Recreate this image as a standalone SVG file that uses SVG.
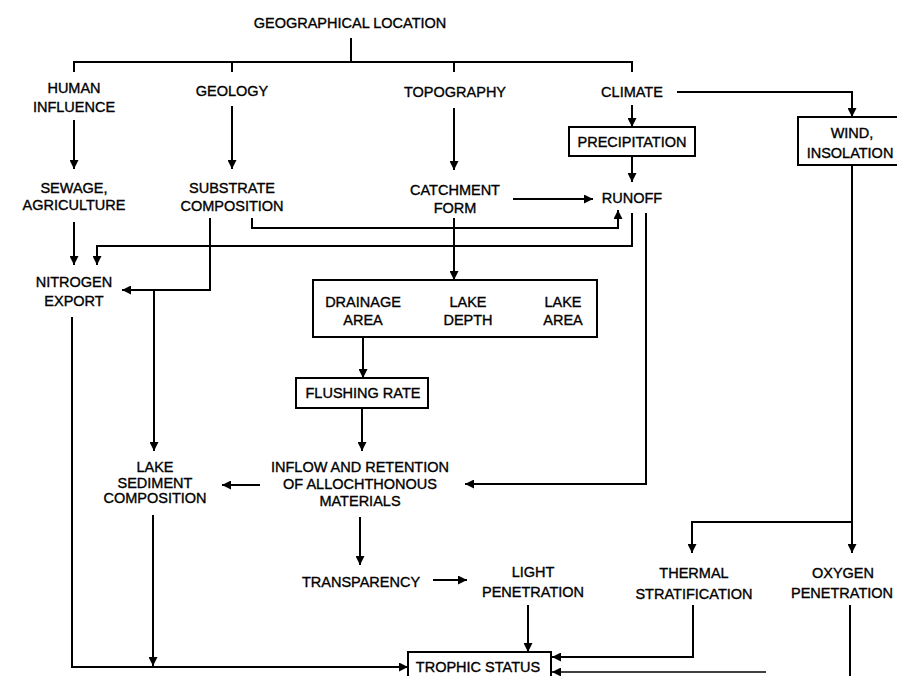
<svg xmlns="http://www.w3.org/2000/svg" width="897" height="676" viewBox="0 0 897 676">
<defs>
<marker id="ah" viewBox="0 0 10 10" refX="10" refY="5" markerWidth="9" markerHeight="9" markerUnits="userSpaceOnUse" orient="auto">
<path d="M0,0 L10,5 L0,10 z" fill="#000"/>
</marker>
</defs>
<style>
text{font-family:"Liberation Sans",Arial,Helvetica,sans-serif;font-size:14.5px;text-anchor:middle;fill:#000;stroke:#000;stroke-width:0.35px}
.c{fill:none;stroke:#000;stroke-width:2}
.a{marker-end:url(#ah)}
.box{fill:#fff;stroke:#000;stroke-width:2}
</style>
<rect width="897" height="676" fill="#fff"/>
<g id="connectors">
<path class="c" d="M351,38 V62"/>
<path class="c" d="M74,72 V62 H632 V72"/>
<path class="c" d="M232,62 V72"/>
<path class="c" d="M454,62 V72"/>
<path class="c a" d="M74,120 V169"/>
<path class="c a" d="M232,106 V169"/>
<path class="c a" d="M454,108 V170"/>
<path class="c a" d="M632,105 V127"/>
<path class="c a" d="M632,156 V182"/>
<path class="c a" d="M677,92 H852 V117"/>
<path class="c a" d="M513,199 H593"/>
<path class="c a" d="M252,218 V228 H618 V210"/>
<path class="c a" d="M632,213 V246 H97 V265"/>
<path class="c a" d="M74,222 V265"/>
<path class="c a" d="M210,218 V290 H122"/>
<path class="c a" d="M154,290 V451"/>
<path class="c a" d="M454,218 V280"/>
<path class="c a" d="M363,337 V378"/>
<path class="c a" d="M362,408 V451"/>
<path class="c a" d="M646,213 V484 H465"/>
<path class="c a" d="M260,485 H222"/>
<path class="c a" d="M360,517 V565"/>
<path class="c a" d="M433,580 H467"/>
<path class="c a" d="M852,165 V553"/>
<path class="c a" d="M852,522 H692 V553"/>
<path class="c a" d="M72,317 V667 H408"/>
<path class="c a" d="M153,515 V666"/>
<path class="c a" d="M528,605 V652"/>
<path class="c a" d="M693,605 V657 H552"/>
<path class="c" d="M850,605 V676"/>
<path class="c a" d="M766,672 H552" style="stroke-width:1.6"/>
</g>
<g id="geographical-location"><text x="350" y="28">GEOGRAPHICAL LOCATION</text></g>
<g id="human-influence"><text x="74" y="93">HUMAN</text><text x="74" y="112">INFLUENCE</text></g>
<g id="geology"><text x="232" y="96">GEOLOGY</text></g>
<g id="topography"><text x="455" y="97">TOPOGRAPHY</text></g>
<g id="climate"><text x="632" y="97">CLIMATE</text></g>
<g id="precipitation"><rect class="box" x="569" y="127" width="126" height="29"/><text x="632" y="147">PRECIPITATION</text></g>
<g id="wind-insolation"><rect class="box" x="798" y="117" width="112" height="48"/><text x="852" y="138">WIND,</text><text x="850" y="158">INSOLATION</text></g>
<g id="sewage-agriculture"><text x="74" y="193">SEWAGE,</text><text x="74" y="210">AGRICULTURE</text></g>
<g id="substrate-composition"><text x="232" y="193">SUBSTRATE</text><text x="232" y="211">COMPOSITION</text></g>
<g id="catchment-form"><text x="455" y="195">CATCHMENT</text><text x="455" y="213">FORM</text></g>
<g id="runoff"><text x="632" y="203">RUNOFF</text></g>
<g id="nitrogen-export"><text x="74" y="287">NITROGEN</text><text x="74" y="306">EXPORT</text></g>
<g id="basin"><rect class="box" x="313" y="280" width="284" height="57"/>
<text x="363" y="307">DRAINAGE</text><text x="363" y="325">AREA</text>
<text x="468" y="307">LAKE</text><text x="468" y="325">DEPTH</text>
<text x="563" y="307">LAKE</text><text x="563" y="325">AREA</text></g>
<g id="flushing-rate"><rect class="box" x="296" y="378" width="132" height="30"/><text x="363" y="398">FLUSHING RATE</text></g>
<g id="lake-sediment"><text x="155" y="472">LAKE</text><text x="155" y="488">SEDIMENT</text><text x="155" y="503">COMPOSITION</text></g>
<g id="inflow"><text x="360" y="472">INFLOW AND RETENTION</text><text x="360" y="489">OF ALLOCHTHONOUS</text><text x="360" y="506">MATERIALS</text></g>
<g id="transparency"><text x="361" y="587">TRANSPARENCY</text></g>
<g id="light-penetration"><text x="533" y="577">LIGHT</text><text x="533" y="597">PENETRATION</text></g>
<g id="thermal-stratification"><text x="694" y="578">THERMAL</text><text x="694" y="599">STRATIFICATION</text></g>
<g id="oxygen-penetration"><text x="843" y="578">OXYGEN</text><text x="842" y="598">PENETRATION</text></g>
<g id="trophic-status"><rect class="box" x="408" y="652" width="143" height="40"/><text x="478" y="672">TROPHIC STATUS</text></g>
</svg>
